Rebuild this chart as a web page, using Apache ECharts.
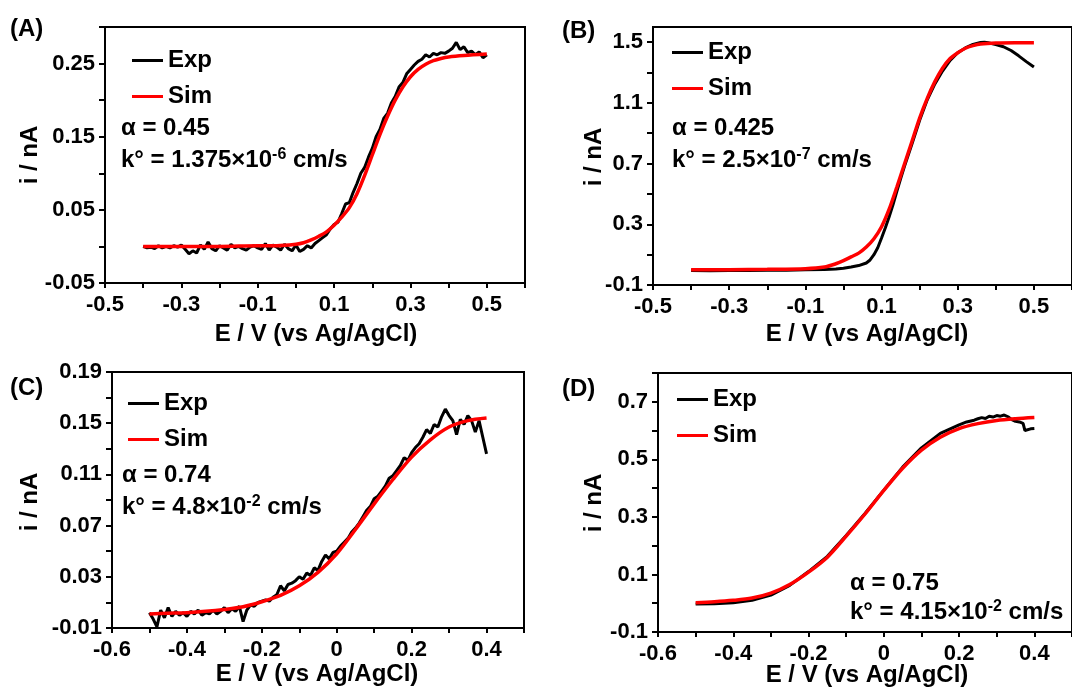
<!DOCTYPE html>
<html><head><meta charset="utf-8">
<script src="https://cdn.jsdelivr.net/npm/echarts@6/dist/echarts.min.js"></script>
<style>html,body{margin:0;padding:0;background:#fff}#c{width:1072px;height:689px}</style>
</head><body><div id="c"></div>
<script>
// ---------- Panel A ----------
const aExp = [[-0.40,0.000],[-0.39,-0.002],[-0.38,-0.001],[-0.37,-0.003],[-0.36,0.001],[-0.35,-0.002],[-0.34,0.000],[-0.33,-0.002],[-0.32,0.001],[-0.31,-0.001],[-0.30,0.002],[-0.29,-0.004],[-0.28,-0.010],[-0.27,-0.006],[-0.26,-0.009],[-0.25,0.002],[-0.24,-0.004],[-0.23,0.006],[-0.22,-0.003],[-0.21,-0.006],[-0.20,0.001],[-0.19,-0.002],[-0.18,-0.005],[-0.17,0.003],[-0.16,-0.002],[-0.15,0.000],[-0.14,-0.003],[-0.13,-0.005],[-0.12,-0.001],[-0.11,0.001],[-0.10,-0.002],[-0.09,-0.004],[-0.08,0.004],[-0.07,-0.005],[-0.06,0.002],[-0.05,-0.001],[-0.04,-0.005],[-0.03,0.003],[-0.02,-0.003],[-0.01,-0.006],[0.00,0.002],[0.01,-0.007],[0.02,-0.004],[0.03,0.001],[0.04,-0.002],[0.05,0.004],[0.06,0.008],[0.07,0.012],[0.08,0.016],[0.09,0.024],[0.10,0.030],[0.11,0.033],[0.12,0.045],[0.13,0.058],[0.14,0.060],[0.15,0.074],[0.16,0.086],[0.17,0.100],[0.18,0.108],[0.19,0.122],[0.20,0.134],[0.21,0.150],[0.22,0.160],[0.23,0.175],[0.24,0.182],[0.25,0.196],[0.26,0.205],[0.27,0.218],[0.28,0.224],[0.29,0.236],[0.30,0.242],[0.31,0.248],[0.32,0.253],[0.33,0.256],[0.34,0.262],[0.35,0.259],[0.36,0.264],[0.37,0.262],[0.38,0.265],[0.39,0.264],[0.40,0.267],[0.41,0.271],[0.42,0.279],[0.43,0.269],[0.44,0.273],[0.45,0.265],[0.46,0.267],[0.47,0.262],[0.48,0.266],[0.49,0.258],[0.50,0.262]];
const aSim = [[-0.40,0.000],[-0.30,0.000],[-0.20,0.000],[-0.10,0.001],[-0.05,0.001],[0.00,0.003],[0.02,0.005],[0.04,0.009],[0.06,0.014],[0.08,0.020],[0.10,0.029],[0.12,0.040],[0.14,0.053],[0.16,0.072],[0.18,0.097],[0.20,0.125],[0.22,0.153],[0.24,0.178],[0.26,0.200],[0.28,0.218],[0.30,0.232],[0.32,0.242],[0.34,0.249],[0.36,0.254],[0.38,0.257],[0.40,0.259],[0.44,0.261],[0.50,0.263]];
const aXTicks = [-0.5,-0.4,-0.3,-0.2,-0.1,0,0.1,0.2,0.3,0.4,0.5,0.6];
const aXLabels = [-0.5,-0.3,-0.1,0.1,0.3,0.5];
const aYTicks = [-0.05,0,0.05,0.1,0.15,0.2,0.25,0.3];
const aYLabels = [-0.05,0.05,0.15,0.25];

// ---------- Panel B ----------
const bExp = [[-0.40,-0.005],[-0.35,-0.006],[-0.30,-0.005],[-0.25,-0.004],[-0.20,-0.003],[-0.15,-0.002],[-0.10,0.000],[-0.05,0.002],[-0.02,0.006],[0.00,0.010],[0.02,0.018],[0.04,0.028],[0.06,0.045],[0.07,0.065],[0.08,0.100],[0.09,0.145],[0.10,0.210],[0.11,0.277],[0.12,0.350],[0.13,0.428],[0.14,0.515],[0.15,0.600],[0.16,0.680],[0.18,0.830],[0.20,0.985],[0.22,1.120],[0.24,1.225],[0.26,1.310],[0.28,1.380],[0.30,1.430],[0.32,1.462],[0.34,1.485],[0.36,1.498],[0.37,1.500],[0.38,1.496],[0.40,1.484],[0.42,1.470],[0.44,1.445],[0.46,1.410],[0.48,1.372],[0.50,1.336]];
const bSim = [[-0.40,0.000],[-0.30,0.001],[-0.20,0.003],[-0.10,0.007],[-0.05,0.018],[-0.02,0.040],[0.00,0.060],[0.02,0.085],[0.04,0.110],[0.06,0.150],[0.08,0.205],[0.10,0.284],[0.12,0.400],[0.14,0.544],[0.16,0.696],[0.18,0.847],[0.20,1.000],[0.22,1.130],[0.24,1.240],[0.26,1.328],[0.28,1.392],[0.30,1.430],[0.32,1.460],[0.34,1.477],[0.36,1.488],[0.40,1.495],[0.45,1.497],[0.50,1.497]];
const bXTicks = [-0.5,-0.4,-0.3,-0.2,-0.1,0,0.1,0.2,0.3,0.4,0.5,0.6];
const bXLabels = [-0.5,-0.3,-0.1,0.1,0.3,0.5];
const bYTicks = [-0.1,0.1,0.3,0.5,0.7,0.9,1.1,1.3,1.5];
const bYLabels = [-0.1,0.3,0.7,1.1,1.5];

// ---------- Panel C ----------
const cExp = [[-0.50,0.002],[-0.49,-0.003],[-0.48,-0.009],[-0.47,0.004],[-0.46,-0.002],[-0.45,0.006],[-0.44,-0.001],[-0.43,0.003],[-0.42,0.000],[-0.41,0.002],[-0.40,-0.001],[-0.39,0.003],[-0.38,0.001],[-0.37,0.004],[-0.36,0.000],[-0.35,0.002],[-0.34,0.001],[-0.33,0.004],[-0.32,0.001],[-0.31,0.003],[-0.30,0.006],[-0.29,0.002],[-0.28,0.005],[-0.27,0.003],[-0.26,0.007],[-0.25,-0.005],[-0.24,0.004],[-0.23,0.008],[-0.22,0.007],[-0.21,0.010],[-0.20,0.011],[-0.19,0.012],[-0.18,0.011],[-0.17,0.014],[-0.16,0.016],[-0.15,0.023],[-0.14,0.019],[-0.13,0.024],[-0.12,0.025],[-0.11,0.027],[-0.10,0.030],[-0.09,0.028],[-0.08,0.033],[-0.07,0.031],[-0.06,0.037],[-0.05,0.035],[-0.04,0.042],[-0.03,0.047],[-0.02,0.044],[-0.01,0.049],[0.00,0.050],[0.01,0.054],[0.02,0.057],[0.03,0.060],[0.04,0.065],[0.05,0.068],[0.06,0.072],[0.07,0.077],[0.08,0.082],[0.09,0.085],[0.10,0.091],[0.11,0.093],[0.12,0.097],[0.13,0.101],[0.14,0.107],[0.15,0.109],[0.16,0.113],[0.17,0.117],[0.18,0.123],[0.19,0.121],[0.20,0.127],[0.21,0.131],[0.22,0.134],[0.23,0.139],[0.24,0.145],[0.25,0.142],[0.26,0.149],[0.27,0.147],[0.28,0.155],[0.29,0.161],[0.30,0.156],[0.31,0.152],[0.32,0.141],[0.33,0.153],[0.34,0.149],[0.35,0.156],[0.36,0.152],[0.37,0.143],[0.38,0.152],[0.39,0.139],[0.40,0.126]];
const cSim = [[-0.50,0.001],[-0.45,0.0015],[-0.40,0.002],[-0.35,0.003],[-0.30,0.0045],[-0.25,0.0066],[-0.20,0.0105],[-0.15,0.0155],[-0.10,0.023],[-0.05,0.0335],[0.00,0.048],[0.05,0.067],[0.10,0.087],[0.15,0.106],[0.20,0.1235],[0.25,0.137],[0.30,0.147],[0.35,0.152],[0.40,0.154]];
const cXTicks = [-0.6,-0.5,-0.4,-0.3,-0.2,-0.1,0,0.1,0.2,0.3,0.4,0.5];
const cXLabels = [-0.6,-0.4,-0.2,0,0.2,0.4];
const cYTicks = [-0.01,0.01,0.03,0.05,0.07,0.09,0.11,0.13,0.15,0.17,0.19];
const cYLabels = [-0.01,0.03,0.07,0.11,0.15,0.19];

// ---------- Panel D ----------
const dExp = [[-0.50,-0.003],[-0.45,-0.002],[-0.40,0.002],[-0.35,0.010],[-0.30,0.028],[-0.25,0.062],[-0.20,0.110],[-0.15,0.163],[-0.10,0.235],[-0.05,0.312],[0.00,0.393],[0.05,0.473],[0.10,0.540],[0.15,0.590],[0.20,0.620],[0.22,0.630],[0.24,0.636],[0.25,0.641],[0.26,0.645],[0.27,0.642],[0.28,0.650],[0.29,0.647],[0.30,0.652],[0.31,0.650],[0.32,0.654],[0.33,0.648],[0.34,0.638],[0.35,0.632],[0.36,0.630],[0.37,0.625],[0.375,0.600],[0.38,0.594],[0.39,0.606],[0.40,0.607]];
const dSim = [[-0.50,0.002],[-0.45,0.005],[-0.40,0.010],[-0.35,0.018],[-0.30,0.035],[-0.25,0.065],[-0.20,0.108],[-0.15,0.160],[-0.10,0.233],[-0.05,0.310],[0.00,0.392],[0.05,0.469],[0.10,0.532],[0.15,0.577],[0.20,0.607],[0.25,0.624],[0.30,0.635],[0.35,0.641],[0.40,0.645]];
const dXTicks = [-0.6,-0.5,-0.4,-0.3,-0.2,-0.1,0,0.1,0.2,0.3,0.4,0.5];
const dXLabels = [-0.6,-0.4,-0.2,0,0.2,0.4];
const dYTicks = [-0.1,0,0.1,0.2,0.3,0.4,0.5,0.6,0.7,0.8];
const dYLabels = [-0.1,0.1,0.3,0.5,0.7];

const panelNames = ['(A)','(B)','(C)','(D)'];
const alphaTexts = ['α = 0.45','α = 0.425','α = 0.74','α = 0.75'];
const kMantissa = ['1.375','2.5','4.8','4.15'];
const kExponent = ['-6','-7','-2','-2'];
const xTitle = 'E / V (vs Ag/AgCl)';
const yTitle = 'i / nA';

const FF = 'Arial, "Liberation Sans", sans-serif';
const panels = [
  {exp:aExp, sim:aSim, xt:aXTicks, xl:aXLabels, yt:aYTicks, yl:aYLabels, xr:[-0.5,0.6], yr:[-0.05,0.30],
   grid:{left:105,top:27,width:420,height:256}, leg:{left:132,top:48}, lab:[10,29], al:[121,128], kl:[121,160], yT:[30,155], xT:[316,334]},
  {exp:bExp, sim:bSim, xt:bXTicks, xl:bXLabels, yt:bYTicks, yl:bYLabels, xr:[-0.5,0.6], yr:[-0.1,1.6],
   grid:{left:653,top:27,width:421,height:258}, leg:{left:672,top:40}, lab:[562,31], al:[672,128], kl:[672,160], yT:[594,157], xT:[867,334]},
  {exp:cExp, sim:cSim, xt:cXTicks, xl:cXLabels, yt:cYTicks, yl:cYLabels, xr:[-0.6,0.5], yr:[-0.01,0.19],
   grid:{left:112,top:372,width:412,height:256}, leg:{left:128,top:391}, lab:[10,388], al:[122,475], kl:[122,507], yT:[30,502], xT:[317,674]},
  {exp:dExp, sim:dSim, xt:dXTicks, xl:dXLabels, yt:dYTicks, yl:dYLabels, xr:[-0.6,0.5], yr:[-0.1,0.8],
   grid:{left:658,top:373,width:416,height:259}, leg:{left:677,top:387}, lab:[562,389], al:[850,583], kl:[850,612], yT:[594,503], xT:[867,675]}
];

const option = {animation:false, backgroundColor:'#fff', grid:[], xAxis:[], yAxis:[], series:[], legend:[], graphic:[]};
panels.forEach((p,i)=>{
  option.grid.push(Object.assign({show:true, borderColor:'#000', borderWidth:2, backgroundColor:'transparent', containLabel:false}, p.grid));
  const axisCommon = {
    type:'value', gridIndex:i, splitLine:{show:false},
    axisLine:{show:true, onZero:false, lineStyle:{color:'#000', width:2}},
    axisTick:{show:true, inside:false, length:5, lineStyle:{color:'#000', width:2}},
    axisLabel:{color:'#000', fontFamily:FF, fontWeight:'bold', fontSize:22}
  };
  option.xAxis.push(echarts.util.merge(echarts.util.clone(axisCommon), {
    min:p.xr[0], max:p.xr[1],
    axisTick:{customValues:p.xt}, axisLabel:{customValues:p.xl, margin:11}
  }, true));
  option.yAxis.push(echarts.util.merge(echarts.util.clone(axisCommon), {
    min:p.yr[0], max:p.yr[1],
    axisTick:{customValues:p.yt, length:6}, axisLabel:{customValues:p.yl, margin:10}
  }, true));
  option.series.push({name:'Exp', type:'line', xAxisIndex:i, yAxisIndex:i, data:p.exp, showSymbol:false, symbol:'none',
    lineStyle:{color:'#000', width:3}, itemStyle:{color:'#000'}, z:2});
  option.series.push({name:'Sim', type:'line', xAxisIndex:i, yAxisIndex:i, data:p.sim, showSymbol:false, symbol:'none', smooth:0.3,
    lineStyle:{color:'#ff0000', width:3.5}, itemStyle:{color:'#ff0000'}, z:3});
  option.legend.push({data:['Exp','Sim'], orient:'vertical', left:p.leg.left, top:p.leg.top, padding:0,
    icon:'rect', itemWidth:31, itemHeight:3, itemGap:11, selectedMode:false,
    textStyle:{color:'#000', fontFamily:FF, fontWeight:'bold', fontSize:24, lineHeight:25}});
  option.graphic.push({type:'text', x:p.lab[0], y:p.lab[1], style:{text:panelNames[i], font:'bold 24px '+FF, fill:'#000', textAlign:'left', textVerticalAlign:'middle'}});
  option.graphic.push({type:'text', x:p.al[0], y:p.al[1], style:{text:alphaTexts[i], font:'bold 24px '+FF, fill:'#000', textAlign:'left', textVerticalAlign:'middle'}});
  option.graphic.push({type:'text', x:p.kl[0], y:p.kl[1], style:{
    text:'{n|k° = '+kMantissa[i]+'×10}{s|'+kExponent[i]+'}{n| cm/s}', fill:'#000', textAlign:'left', textVerticalAlign:'middle',
    rich:{n:{fontFamily:FF, fontWeight:'bold', fontSize:24, fill:'#000', lineHeight:26},
          s:{fontFamily:FF, fontWeight:'bold', fontSize:16, fill:'#000', verticalAlign:'top', lineHeight:16}}}});
  option.graphic.push({type:'text', x:p.yT[0], y:p.yT[1], rotation:Math.PI/2, style:{text:yTitle, font:'bold 24px '+FF, fill:'#000', textAlign:'center', textVerticalAlign:'middle'}});
  option.graphic.push({type:'text', x:p.xT[0], y:p.xT[1], style:{text:xTitle, font:'bold 24px '+FF, fill:'#000', textAlign:'center', textVerticalAlign:'middle'}});
});
const chart = echarts.init(document.getElementById('c'), null, {renderer:'canvas'});
chart.setOption(option);
</script>
</body></html>
